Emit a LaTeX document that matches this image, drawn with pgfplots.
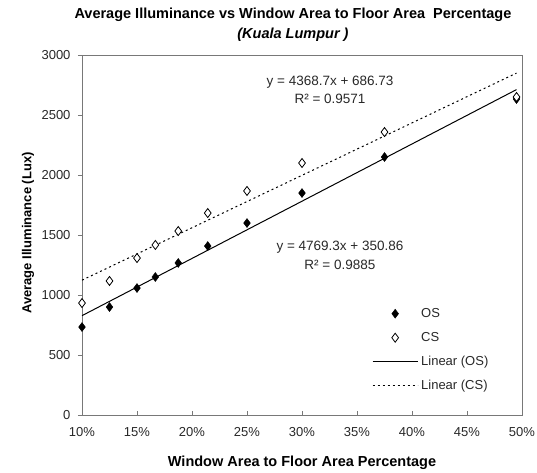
\documentclass[border=0pt]{standalone}
\usepackage{fontspec}
\setmainfont{Liberation Sans}
\usepackage{pgfplots}
\pgfplotsset{compat=1.18}
\definecolor{framegray}{RGB}{120,120,120}
\definecolor{txtgray}{RGB}{40,40,40}
\pgfplotsset{
  markleg/.style={legend image code/.code={\draw[##1] plot coordinates {(22.5pt,0pt)};}},
  lineleg/.style={legend image code/.code={\draw[##1] (0pt,0pt) -- (45pt,0pt);}},
}
\begin{document}
\begin{tikzpicture}
\useasboundingbox (-82pt,-57pt) rectangle (455pt,415pt);
\begin{axis}[
  at={(0,0)}, anchor=south west,
  scale only axis, width=440pt, height=360pt,
  xmin=0.1, xmax=0.5, ymin=0, ymax=3000,
  xtick={0.1,0.15,0.2,0.25,0.3,0.35,0.4,0.45,0.5},
  xticklabels={10\%,15\%,20\%,25\%,30\%,35\%,40\%,45\%,50\%},
  ytick={0,500,1000,1500,2000,2500,3000},
  scaled y ticks=false,
  /pgf/number format/assume math mode=true,
  yticklabel style={/pgf/number format/1000 sep={}, font=\fontsize{13}{13}\selectfont, text=txtgray, xshift=-4pt},
  xticklabel style={font=\fontsize{13}{13}\selectfont, text=txtgray, yshift=-9pt},
  axis line style={framegray, line width=0.9pt},
  tick style={framegray, line width=0.7pt},
  major tick length=4pt,
  ytick align=outside, xtick align=inside,
  xtick pos=bottom, ytick pos=left,
  clip=false,
  title={Average Illuminance vs Window Area to Floor Area\ \ Percentage\\\textit{(Kuala Lumpur )}},
  title style={at={(0.4795,1.067)}, anchor=center, align=center, font=\fontsize{14.5}{20}\selectfont\bfseries},
  xlabel={Window Area to Floor Area Percentage},
  xlabel style={at={(0.5,-0.1333)}, anchor=center, font=\fontsize{14.5}{14.5}\selectfont\bfseries},
  ylabel={Average Illuminance (Lux)},
  ylabel style={at={(-0.1227,0.5056)}, anchor=center, font=\fontsize{13}{13}\selectfont\bfseries},
  legend style={draw=none, fill=none, at={(axis cs:0.3636,925)}, anchor=north west,
    font=\fontsize{13}{13}\selectfont, text=txtgray, row sep=5pt, inner sep=0pt,
    nodes={inner sep=3pt, text height=10pt, text depth=3pt}},
  legend cell align=left,
]
\addplot[only marks, mark=diamond*, mark size=4.5pt, mark options={fill=black, draw=black}, markleg]
  coordinates {(0.1,733) (0.125,900) (0.15,1058) (0.1667,1150) (0.1875,1267)
  (0.2143,1408) (0.25,1600) (0.30,1850) (0.375,2150) (0.495,2633)};
\addlegendentry{OS}
\addplot[only marks, mark=diamond*, mark size=4.5pt, mark options={fill=white, draw=black, line width=0.8pt}, markleg]
  coordinates {(0.1,933) (0.125,1117) (0.15,1308) (0.1667,1417) (0.1875,1533)
  (0.2143,1683) (0.25,1867) (0.30,2100) (0.375,2358) (0.495,2650)};
\addlegendentry{CS}
\addplot[black, line width=1pt, no marks, lineleg]
  coordinates {(0.1,827.79) (0.495,2711.66)};
\addlegendentry{Linear (OS)}
\addplot[black, line width=1pt, no marks, dash pattern=on 2pt off 3pt, lineleg]
  coordinates {(0.1,1123.60) (0.495,2849.24)};
\addlegendentry{Linear (CS)}
\node[font=\fontsize{13.5}{13.5}\selectfont, text=txtgray] at (axis cs:0.3255,2775) {y = 4368.7x + 686.73};
\node[font=\fontsize{13.5}{13.5}\selectfont, text=txtgray] at (axis cs:0.3255,2633) {R² = 0.9571};
\node[font=\fontsize{13.5}{13.5}\selectfont, text=txtgray] at (axis cs:0.3345,1400) {y = 4769.3x + 350.86};
\node[font=\fontsize{13.5}{13.5}\selectfont, text=txtgray] at (axis cs:0.3345,1250) {R² = 0.9885};
\end{axis}
\end{tikzpicture}
\end{document}
